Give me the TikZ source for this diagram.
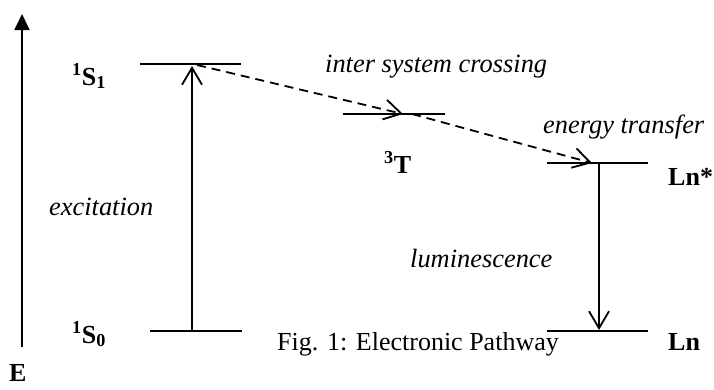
\documentclass[tikz,border=0pt]{standalone}
\usepackage{fontspec}
\setmainfont{Liberation Serif}
\usetikzlibrary{arrows.meta}
\begin{document}
\begin{tikzpicture}[x=1pt,y=-1pt,
  level/.style={line width=2.6pt},
  trans/.style={line width=1.8pt},
  lbl/.style={font=\fontsize{26}{30}\selectfont\bfseries, inner sep=0pt, anchor=base west},
  itl/.style={font=\fontsize{26.4}{30}\selectfont\itshape, inner sep=0pt, anchor=base west},
  figcaption/.style={font=\fontsize{26}{30}\selectfont, inner sep=0pt, anchor=base west},
  openhead/.style={-{Straight Barb[length=17pt,width=20pt]}},
  dashtrans/.style={trans, dash pattern=on 9pt off 6pt}
]
\useasboundingbox (0,0) rectangle (714,389);
% energy axis
\coordinate (ebot) at (22,347);
\coordinate (etop) at (22,14);
\draw[trans,-{Triangle[length=16pt,width=15pt]}] (ebot) -- (etop);
\node[lbl, text depth=0pt] (E) at (9,381) {E};
% levels
\coordinate (s1w) at (140,64);  \coordinate (s1e) at (241,64);
\coordinate (s0w) at (150,331); \coordinate (s0e) at (242,331);
\coordinate (tw)  at (343,114); \coordinate (te)  at (445,114);
\coordinate (lsw) at (547,163); \coordinate (lse) at (648,163);
\coordinate (lnw) at (547,331); \coordinate (lne) at (648,331);
\draw[level] (s1w) -- (s1e);
\draw[level] (s0w) -- (s0e);
\draw[level] (tw) -- (te);
\draw[level] (lsw) -- (lse);
\draw[level] (lnw) -- (lne);
% transitions
\coordinate (s0m) at (192,331); \coordinate (s1m) at (192,66);
\draw[trans,openhead] (s0m) -- (s1m);
\coordinate (s1x) at (197,65); \coordinate (tin) at (403,114);
\coordinate (tout) at (412,114); \coordinate (lsin) at (592,163);
\draw[dashtrans,openhead] (s1x) -- (tin);
\draw[dashtrans,openhead] (tout) -- (lsin);
\coordinate (lstop) at (599,164); \coordinate (lnbot) at (599,330);
\draw[trans,openhead] (lstop) -- (lnbot);
% labels
\node[lbl] (S1) at (72,85) {\textsuperscript{1}S\textsubscript{1}};
\node[lbl] (S0) at (72,343) {\textsuperscript{1}S\textsubscript{0}};
\node[lbl] (T) at (384,173) {\textsuperscript{3}T};
\node[lbl] (Lns) at (668,185) {Ln*};
\node[lbl] (Ln) at (668,350) {Ln};
\node[itl] (isc) at (325,72) {inter system crossing};
\node[itl] (et) at (543,133) {energy transfer};
\node[itl] (exc) at (49,215) {excitation};
\node[itl] (lum) at (410,267) {luminescence};
\node[figcaption] (fig) at (277,350) {Fig. 1: Electronic Pathway};
\end{tikzpicture}
\end{document}
